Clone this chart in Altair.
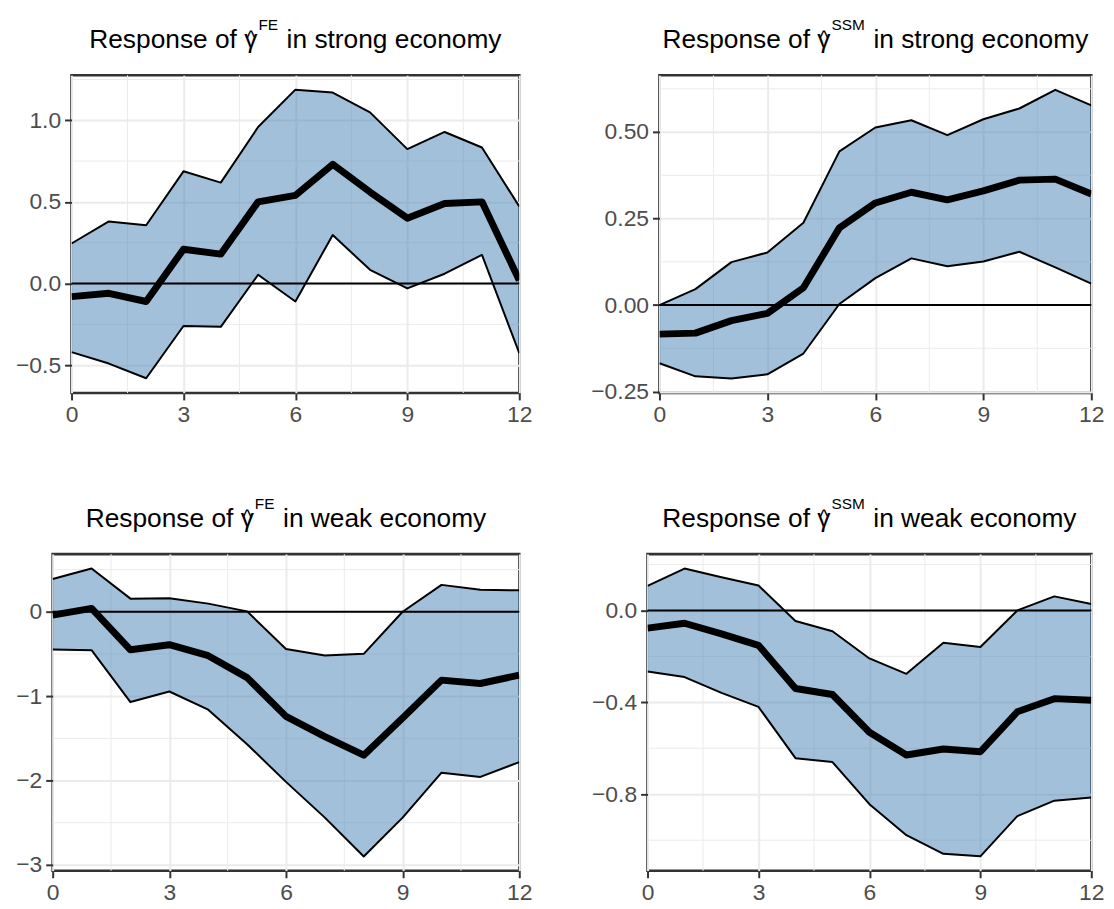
import altair as alt
import pandas as pd

horizon = list(range(13))

fe_strong_mean = [-0.08, -0.06, -0.11, 0.21, 0.18, 0.50, 0.54, 0.73, 0.56, 0.40, 0.49, 0.50, 0.02]
fe_strong_lower = [-0.42, -0.49, -0.58, -0.26, -0.265, 0.054, -0.11, 0.297, 0.084, -0.03, 0.06, 0.175, -0.426]
fe_strong_upper = [0.245, 0.38, 0.357, 0.687, 0.618, 0.958, 1.187, 1.169, 1.048, 0.823, 0.928, 0.833, 0.472]

ssm_strong_mean = [-0.084, -0.081, -0.045, -0.024, 0.05, 0.223, 0.295, 0.326, 0.304, 0.33, 0.361, 0.364, 0.321]
ssm_strong_lower = [-0.168, -0.206, -0.212, -0.200, -0.140, 0.003, 0.078, 0.135, 0.112, 0.126, 0.154, 0.109, 0.062]
ssm_strong_upper = [0.0, 0.046, 0.124, 0.152, 0.238, 0.444, 0.513, 0.534, 0.491, 0.537, 0.568, 0.622, 0.577]

fe_weak_mean = [-0.04, 0.04, -0.45, -0.39, -0.52, -0.78, -1.24, -1.48, -1.70, -1.26, -0.81, -0.85, -0.75]
fe_weak_lower = [-0.447, -0.455, -1.07, -0.945, -1.16, -1.57, -2.016, -2.44, -2.90, -2.44, -1.907, -1.957, -1.782]
fe_weak_upper = [0.389, 0.514, 0.156, 0.160, 0.097, 0.005, -0.44, -0.518, -0.498, 0.0, 0.319, 0.261, 0.255]

ssm_weak_mean = [-0.077, -0.056, -0.102, -0.152, -0.340, -0.366, -0.530, -0.629, -0.603, -0.615, -0.441, -0.384, -0.391]
ssm_weak_lower = [-0.266, -0.290, -0.359, -0.420, -0.643, -0.660, -0.843, -0.978, -1.059, -1.070, -0.895, -0.828, -0.814]
ssm_weak_upper = [0.107, 0.182, 0.144, 0.108, -0.046, -0.091, -0.209, -0.276, -0.141, -0.159, 0.0, 0.061, 0.028]

x_ticks = [0, 3, 6, 9, 12]
x_minor = [1.5, 4.5, 7.5, 10.5]

title_lead = "Response of \u03b3"
title_hat = "^"
title_sup = ["FE", "SSM", "FE", "SSM"]
title_tail = ["in strong economy", "in strong economy", "in weak economy", "in weak economy"]

FONT = "Liberation Sans"
GRID = "#ebebeb"
FILL = "#4682b4"
FS = 26.5      # title font size
SFS = 15.5     # superscript font size
LFS = 23       # axis label font size

# Arial / Liberation Sans advance widths (per 1000 em), used to place the title pieces
ADV = {'R': 722, 'e': 556, 's': 500, 'p': 556, 'o': 556, 'n': 556, ' ': 278, 'f': 278,
       'i': 222, 't': 278, 'r': 333, 'g': 556, 'c': 500, 'm': 833, 'y': 500, 'w': 722,
       'a': 556, 'k': 500, 'F': 611, 'E': 667, 'S': 667, 'M': 833, '\u03b3': 500}


def tw(s, size):
    return sum(ADV.get(ch, 556) for ch in s) * size / 1000.0


def title_layers(width, sup, tail):
    lead_w = tw(title_lead, FS)
    sup_w = tw(sup, SFS)
    tail_w = tw(tail, FS)
    gap = 8.6
    total = lead_w + 1 + sup_w + gap + tail_w
    x0 = width / 2 - total / 2
    base_y = -27.3

    def one(s):
        return alt.Chart(pd.DataFrame({"t": [s]}))

    lead = one(title_lead).mark_text(align="left", baseline="alphabetic", font=FONT,
                                     fontSize=FS, color="black").encode(
        text="t:N", x=alt.value(x0), y=alt.value(base_y))
    hat = one(title_hat).mark_text(align="center", baseline="alphabetic", font=FONT,
                                   fontSize=20, color="black").encode(
        text="t:N", x=alt.value(x0 + lead_w - 0.25 * FS), y=alt.value(base_y - 3))
    supm = one(sup).mark_text(align="left", baseline="alphabetic", font=FONT,
                              fontSize=SFS, color="black").encode(
        text="t:N", x=alt.value(x0 + lead_w + 1), y=alt.value(base_y - 18.4))
    tailm = one(tail).mark_text(align="left", baseline="alphabetic", font=FONT,
                                fontSize=FS, color="black").encode(
        text="t:N", x=alt.value(x0 + lead_w + 1 + sup_w + gap), y=alt.value(base_y))
    return [lead, hat, supm, tailm]


def panel(idx, mean, lower, upper, ydomain, yticks, yminor, yfmt, width, height, yext):
    df = pd.DataFrame({"h": horizon, "mean": mean, "lower": lower, "upper": upper})
    xscale = alt.Scale(domain=[0, 12], nice=False, zero=False)
    yscale = alt.Scale(domain=ydomain, nice=False, zero=False)
    xaxis = alt.Axis(values=x_ticks, format="d", title=None, grid=True, labelFlush=False,
                     labelPadding=4)
    yaxis = alt.Axis(values=yticks, format=yfmt, title=None, grid=True,
                     minExtent=yext, maxExtent=yext, labelPadding=4)

    def X(f):
        return alt.X(f, type="quantitative", scale=xscale, axis=xaxis)

    def Y(f):
        return alt.Y(f, type="quantitative", scale=yscale, axis=yaxis)

    minx = alt.Chart(pd.DataFrame({"v": x_minor})).mark_rule(
        color=GRID, strokeWidth=1).encode(x=X("v"))
    miny = alt.Chart(pd.DataFrame({"v": yminor})).mark_rule(
        color=GRID, strokeWidth=1).encode(y=Y("v"))
    base = alt.Chart(df)
    band = base.mark_area(color=FILL, opacity=0.5, clip=True).encode(
        x=X("h"), y=Y("lower"), y2=alt.Y2("upper"))
    zero = alt.Chart(pd.DataFrame({"v": [0]})).mark_rule(
        color="black", strokeWidth=2).encode(y=Y("v"))
    lo = base.mark_line(color="black", strokeWidth=2, strokeJoin="round", clip=True).encode(
        x=X("h"), y=Y("lower"))
    up = base.mark_line(color="black", strokeWidth=2, strokeJoin="round", clip=True).encode(
        x=X("h"), y=Y("upper"))
    mid = base.mark_line(color="black", strokeWidth=7, strokeJoin="round", clip=True).encode(
        x=X("h"), y=Y("mean"))
    layers = [minx, miny, band, zero, lo, up, mid] + title_layers(width, title_sup[idx], title_tail[idx])
    return alt.layer(*layers).properties(width=width, height=height)


def spacer():
    return alt.Chart(pd.DataFrame({"a": [0]})).mark_point(opacity=0, size=0).properties(
        width=1, height=1, view=alt.ViewBackground(stroke="transparent", strokeWidth=0))


p1 = panel(0, fe_strong_mean, fe_strong_lower, fe_strong_upper,
           [-0.67, 1.275], [-0.5, 0.0, 0.5, 1.0], [-0.25, 0.25, 0.75, 1.25], ".1f", 451, 320, 61)
p2 = panel(1, ssm_strong_mean, ssm_strong_lower, ssm_strong_upper,
           [-0.254, 0.664], [-0.25, 0.0, 0.25, 0.5], [-0.125, 0.125, 0.375, 0.625], ".2f", 435, 320, 75)
p3 = panel(2, fe_weak_mean, fe_weak_lower, fe_weak_upper,
           [-3.07, 0.684], [-3, -2, -1, 0], [-2.5, -1.5, -0.5, 0.5], "d", 470, 319, 42)
p4 = panel(3, ssm_weak_mean, ssm_weak_lower, ssm_weak_upper,
           [-1.133, 0.245], [-0.8, -0.4, 0.0], [-1.0, -0.6, -0.2, 0.2], ".1f", 447, 319, 63)

row1 = alt.hconcat(alt.hconcat(spacer(), p1, spacing=0), p2, spacing=49.2)
row2 = alt.hconcat(alt.hconcat(spacer(), p3, spacing=0), p4, spacing=49.2)

chart = alt.vconcat(row1, row2, spacing=67.3).properties(
    padding={"left": 0, "top": 5.5, "right": 0, "bottom": -3}
).configure_view(
    stroke="#333333", strokeWidth=2.6
).configure_axis(
    domain=False, tickColor="#333333", tickWidth=2, tickSize=7,
    labelColor="#4d4d4d", labelFontSize=LFS, labelFont=FONT,
    gridColor=GRID, gridWidth=2,
)

chart.save("out.html", embed_options={"renderer": "svg", "actions": False})
